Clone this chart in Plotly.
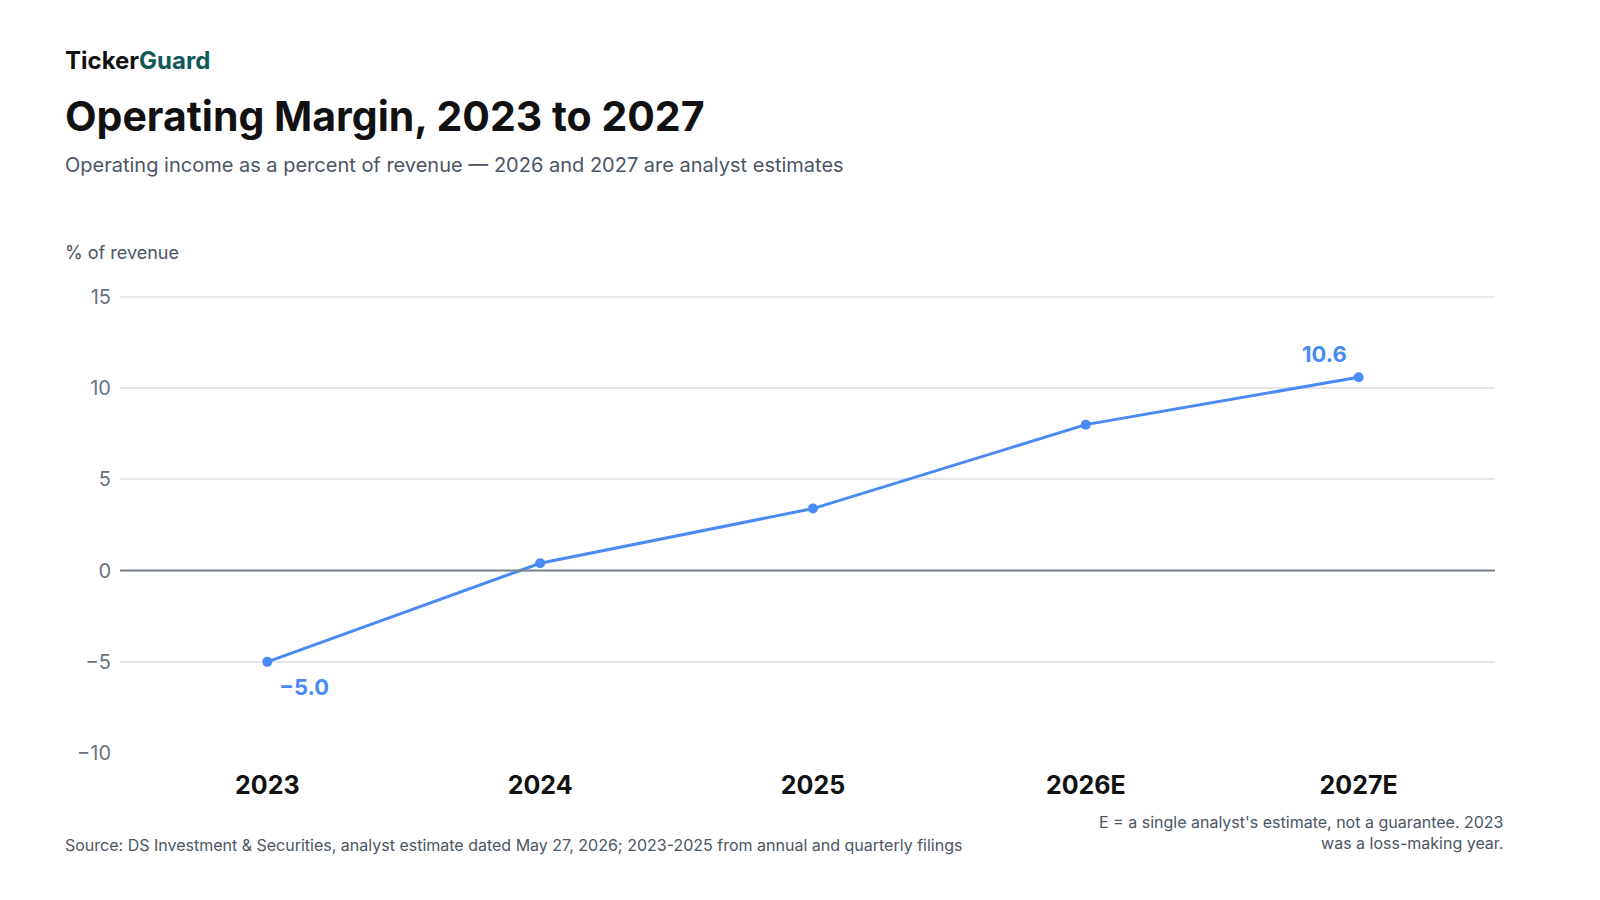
import plotly.graph_objects as go

years = ["2023", "2024", "2025", "2026E", "2027E"]
margin = [-5.0, 0.4, 3.4, 8.0, 10.6]
y_ticks = [-10, -5, 0, 5, 10, 15]
y_tick_text = ["\u221210", "\u22125", "0", "5", "10", "15"]

blue = "#4a8af4"
font = "Inter, Roboto, sans-serif"

fig = go.Figure()
fig.add_trace(go.Scatter(
    x=list(range(len(years))), y=margin, mode="lines+markers",
    line=dict(color=blue, width=3), marker=dict(color=blue, size=10),
    hoverinfo="skip", showlegend=False, cliponaxis=False,
))

# end-point labels
fig.add_annotation(x=0, y=margin[0], text="<b>\u22125.0</b>", showarrow=False,
                   xanchor="left", yanchor="top", xshift=10, yshift=-10,
                   font=dict(size=22, color=blue, family=font))
fig.add_annotation(x=4, y=margin[-1], text="<b>10.6</b>", showarrow=False,
                   xanchor="right", yanchor="bottom", xshift=-10, yshift=8,
                   font=dict(size=22, color=blue, family=font))

fig.add_shape(type="line", xref="paper", x0=0, x1=1, y0=0, y1=0,
              line=dict(color="#7b8591", width=2))
# top gridline drawn explicitly so it is not lost on the plot edge
fig.add_shape(type="line", xref="paper", x0=0, x1=1, y0=15, y1=15,
              line=dict(color="#e3e5e8", width=1.5), layer="below")

fig.update_layout(
    width=1600, height=900, plot_bgcolor="white", paper_bgcolor="white",
    margin=dict(l=120, r=105, t=296, b=146),
    font=dict(family=font, color="#111"),
    xaxis=dict(range=[-0.54, 4.5], tickvals=list(range(len(years))), ticktext=[f"<b>{y}</b>" for y in years],
               tickfont=dict(size=25, color="#111"), showgrid=False, zeroline=False, ticks="",
               ticklabelstandoff=14, automargin=False),
    yaxis=dict(range=[-10.05, 15.05], tickvals=y_ticks, ticktext=y_tick_text,
               tickfont=dict(size=20, color="#6b7280"), gridcolor="#e3e5e8", gridwidth=1.5,
               zeroline=False, ticks="", ticklabelstandoff=8, automargin=False),
)

anns = [
    dict(x=63, y=63, text="<b>Ticker<span style='color:#0f5959'>Guard</span></b>", size=24, color="#111"),
    dict(x=63, y=118, text="<b>Operating Margin, 2023 to 2027</b>", size=41, color="#111"),
    dict(x=63, y=167, text="Operating income as a percent of revenue \u2014 2026 and 2027 are analyst estimates", size=20, color="#4b5563"),
    dict(x=63, y=254, text="% of revenue", size=18, color="#4b5563"),
    dict(x=63, y=842, text="Source: DS Investment &amp; Securities, analyst estimate dated May 27, 2026; 2023-2025 from annual and quarterly filings", size=16, color="#4b5563"),
]
for a in anns:
    fig.add_annotation(xref="paper", yref="paper", x=(a["x"] - 120) / 1375, y=1 - (a["y"] - 297) / 455,
                       text=a["text"], showarrow=False, xanchor="left", yanchor="middle",
                       font=dict(size=a["size"], color=a["color"], family=font))
fig.add_annotation(xref="paper", yref="paper", x=(1505 - 120) / 1375, y=1 - (830 - 297) / 455,
                   text="E = a single analyst's estimate, not a guarantee. 2023<br>was a loss-making year.",
                   showarrow=False, xanchor="right", yanchor="middle", align="right",
                   font=dict(size=16, color="#4b5563", family=font))

fig.write_html("out.html", config={"displayModeBar": False},
               post_script="document.body.style.margin='0';document.body.style.overflow='hidden';")
